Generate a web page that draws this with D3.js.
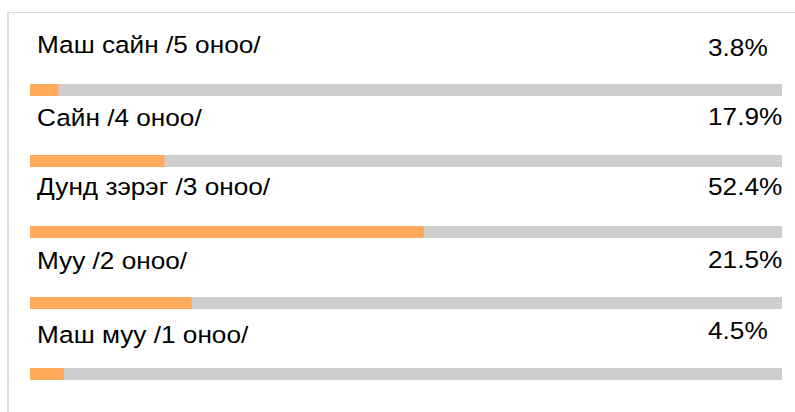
<!DOCTYPE html>
<html>
<head>
<meta charset="utf-8">
<script src="https://cdn.jsdelivr.net/npm/d3@7"></script>
<style>
  html, body { margin: 0; padding: 0; background: #fff; }
  svg { display: block; }
  text { font-family: "Liberation Sans", Arial, sans-serif; fill: #000; }
</style>
</head>
<body>
<svg id="chart" width="795" height="412"></svg>
<script>
// Survey answers and their shares (%)
const categories = [
  "Маш сайн /5 оноо/",
  "Сайн /4 оноо/",
  "Дунд зэрэг /3 оноо/",
  "Муу /2 оноо/",
  "Маш муу /1 оноо/"
];
const percentages = [3.8, 17.9, 52.4, 21.5, 4.5];

// Layout
const W = 795, H = 412;
const barLeft = 30, barRight = 782, barH = 12;
const rowTop = 84, rowStep = 71;
const fontSize = 23.5, stretchX = 1.115;
// baseline offsets of the text in each row, relative to the bar's top
const labelDy = [-31.5, -29, -31.5, -28, -24.7];
const valueDy = [-28.3, -30, -31.3, -29, -29.3];
const labelX = 37, valueX = 708;

const svg = d3.select("#chart");

// frame lines (top and left)
svg.append("rect").attr("x", 7).attr("y", 12).attr("width", W - 7).attr("height", 1).attr("fill", "#dcdcdc");
svg.append("rect").attr("x", 7).attr("y", 12).attr("width", 2).attr("height", H - 12).attr("fill", "#dcdcdc");

const x = d3.scaleLinear().domain([0, 100]).range([barLeft, barRight]);
const y = d3.scaleLinear().domain([0, categories.length - 1]).range([rowTop, rowTop + rowStep * (categories.length - 1)]);

const rows = svg.selectAll("g.row")
  .data(categories.map((c, i) => ({ c, v: percentages[i], i })))
  .join("g")
  .attr("class", "row");

// track
rows.append("rect")
  .attr("x", x(0))
  .attr("y", d => y(d.i))
  .attr("width", x(100) - x(0))
  .attr("height", barH)
  .attr("fill", "#cfcdce");

// value bar
rows.append("rect")
  .attr("x", x(0))
  .attr("y", d => y(d.i))
  .attr("width", d => x(d.v) - x(0))
  .attr("height", barH)
  .attr("fill", "#ffaa5a");

// category label
rows.append("text")
  .attr("transform", d => `translate(${labelX},${y(d.i) + labelDy[d.i]}) scale(${stretchX},1)`)
  .attr("font-size", fontSize)
  .text(d => d.c);

// percentage label
rows.append("text")
  .attr("transform", d => `translate(${valueX},${y(d.i) + valueDy[d.i]}) scale(${stretchX},1)`)
  .attr("font-size", fontSize)
  .text(d => d3.format(".1f")(d.v) + "%");
</script>
</body>
</html>
